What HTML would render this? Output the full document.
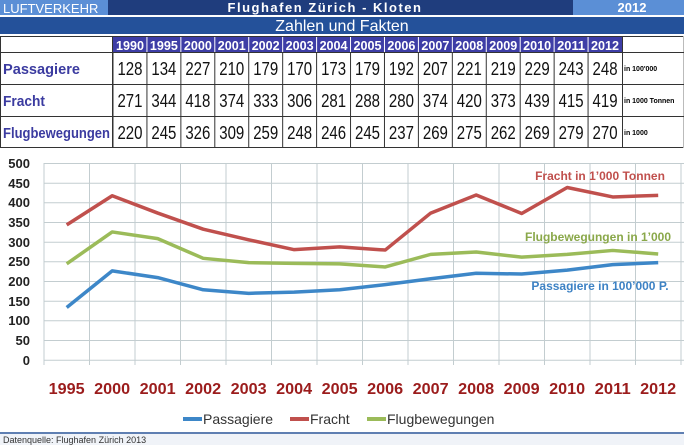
<!DOCTYPE html>
<html><head><meta charset="utf-8"><style>
body{margin:0;background:#fff;}
svg{display:block;font-family:"Liberation Sans",sans-serif;}
</style></head><body>
<svg width="684" height="445" viewBox="0 0 684 445" xmlns="http://www.w3.org/2000/svg">
<rect x="0" y="0" width="684" height="15" fill="#1f3d7d"/>
<rect x="0" y="0" width="108" height="15" fill="#5b8fd6"/>
<rect x="573" y="0" width="111" height="15" fill="#5b8fd6"/>
<text x="3" y="13" font-size="13" fill="#fff">LUFTVERKEHR</text>
<text x="325" y="12" font-size="13" font-weight="bold" fill="#fff" text-anchor="middle" letter-spacing="1.5">Flughafen Zürich - Kloten</text>
<text x="632" y="12" font-size="13" font-weight="bold" fill="#fff" text-anchor="middle">2012</text>
<rect x="0" y="17" width="684" height="17" fill="#24519a"/>
<text x="342" y="31" font-size="16" fill="#fff" text-anchor="middle">Zahlen und Fakten</text>
<g id="tbl" font-size="15" stroke-width="1">
<line x1="0.5" y1="36" x2="0.5" y2="148" stroke="#333"/>
<line x1="0" y1="36.5" x2="684" y2="36.5" stroke="#333"/>
<line x1="0" y1="147.5" x2="684" y2="147.5" stroke="#333"/>
<line x1="683.5" y1="36" x2="683.5" y2="148" stroke="#bbb"/>
<rect x="113" y="37" width="509" height="15" fill="#3d3da6"/>
<line x1="0" y1="52.5" x2="684" y2="52.5" stroke="#333"/>
<line x1="0" y1="84.5" x2="684" y2="84.5" stroke="#333"/>
<line x1="0" y1="116.5" x2="684" y2="116.5" stroke="#333"/>
<line x1="112.5" y1="36" x2="112.5" y2="148" stroke="#333"/>
<line x1="622.5" y1="36" x2="622.5" y2="148" stroke="#333"/>
</g>
<text x="3" y="74" font-size="15" font-weight="bold" fill="#3b3ba0" textLength="77" lengthAdjust="spacingAndGlyphs">Passagiere</text>
<text x="3" y="106" font-size="15" font-weight="bold" fill="#3b3ba0" textLength="42" lengthAdjust="spacingAndGlyphs">Fracht</text>
<text x="3" y="138" font-size="15" font-weight="bold" fill="#3b3ba0" textLength="107" lengthAdjust="spacingAndGlyphs">Flugbewegungen</text>
<text x="624" y="71" font-size="7" font-weight="bold">in 100'000</text>
<text x="624" y="103" font-size="7" font-weight="bold">in 1000 Tonnen</text>
<text x="624" y="135" font-size="7" font-weight="bold">in 1000</text>
<g id="cols"></g>
<line x1="44" y1="163" x2="44" y2="365" stroke="#b8c4c8"/>
<g stroke="#c3cdd0" stroke-width="1">
<line x1="44" y1="163.5" x2="684" y2="163.5"/><line x1="44" y1="183.2" x2="684" y2="183.2"/><line x1="44" y1="202.8" x2="684" y2="202.8"/><line x1="44" y1="222.5" x2="684" y2="222.5"/><line x1="44" y1="242.2" x2="684" y2="242.2"/><line x1="44" y1="261.8" x2="684" y2="261.8"/><line x1="44" y1="281.5" x2="684" y2="281.5"/><line x1="44" y1="301.2" x2="684" y2="301.2"/><line x1="44" y1="320.8" x2="684" y2="320.8"/><line x1="44" y1="340.5" x2="684" y2="340.5"/><line x1="44" y1="360.2" x2="684" y2="360.2"/>
</g>
<g id="vg" stroke="#c3cdd0"></g>
<g font-size="13" font-weight="bold" fill="#222" text-anchor="end">
<text x="30" y="168">500</text><text x="30" y="188">450</text><text x="30" y="207">400</text><text x="30" y="227">350</text><text x="30" y="247">300</text><text x="30" y="266">250</text><text x="30" y="286">200</text><text x="30" y="306">150</text><text x="30" y="325">100</text><text x="30" y="345">50</text><text x="30" y="365">0</text>
</g>
<g id="series" fill="none" stroke-width="3.5" stroke-linejoin="round"></g>
<text x="600" y="180" font-size="12" font-weight="bold" fill="#c0504d" text-anchor="middle">Fracht in 1’000 Tonnen</text>
<text x="598" y="241" font-size="12" font-weight="bold" fill="#8aa84a" text-anchor="middle">Flugbewegungen in 1’000</text>
<text x="600" y="290" font-size="12" font-weight="bold" fill="#3d82c4" text-anchor="middle">Passagiere in 100’000 P.</text>
<g id="yl" font-size="16" font-weight="bold" fill="#9b1c1c" text-anchor="middle"></g>
<line x1="183" y1="419" x2="202" y2="419" stroke="#3d87c8" stroke-width="4"/>
<text x="203" y="424" font-size="14" fill="#333">Passagiere</text>
<line x1="290" y1="419" x2="309" y2="419" stroke="#c0504d" stroke-width="4"/>
<text x="310" y="424" font-size="14" fill="#333">Fracht</text>
<line x1="367" y1="419" x2="386" y2="419" stroke="#9bbb59" stroke-width="4"/>
<text x="387" y="424" font-size="14" fill="#333">Flugbewegungen</text>
<line x1="0" y1="433" x2="684" y2="433" stroke="#2a5599" stroke-width="1.5"/>
<rect x="0" y="434" width="684" height="11" fill="#f0f3f8"/>
<text x="3" y="443" font-size="9" fill="#333">Datenquelle:  Flughafen Zürich  2013</text>
</svg>
<script>
var ns="http://www.w3.org/2000/svg";
function el(p,t,a,txt){var e=document.createElementNS(ns,t);for(var k in a)e.setAttribute(k,a[k]);if(txt!=null)e.textContent=txt;document.getElementById(p).appendChild(e);return e;}
var yrs=[1990,1995,2000,2001,2002,2003,2004,2005,2006,2007,2008,2009,2010,2011,2012];
var P=[128,134,227,210,179,170,173,179,192,207,221,219,229,243,248];
var F=[271,344,418,374,333,306,281,288,280,374,420,373,439,415,419];
var B=[220,245,326,309,259,248,246,245,237,269,275,262,269,279,270];
var w=509/15;
for(var i=0;i<15;i++){var x=113+i*w;
 if(i>0)el("cols","line",{x1:x,y1:37,x2:x,y2:52,stroke:"#fff"});
 el("cols","line",{x1:x,y1:52,x2:x,y2:148,stroke:"#333"});
 el("cols","text",{x:x+w/2,y:50,"font-size":13,"font-weight":"bold",fill:"#fff","text-anchor":"middle",textLength:28,lengthAdjust:"spacingAndGlyphs"},yrs[i]);
 [[P,75],[F,107],[B,139]].forEach(function(r){el("cols","text",{x:x+w/2,y:r[1],"font-size":18,fill:"#111","text-anchor":"middle",textLength:25,lengthAdjust:"spacingAndGlyphs"},r[0][i]);});
}
for(var k=0;k<=14;k++){var x=44+k*45.5;el("vg","line",{x1:x,y1:163,x2:x,y2:365});}
function pts(a){var s=[];for(var i=1;i<15;i++){s.push((66.7+(i-1)*45.5)+","+(360.2-a[i]*0.3934));}return s.join(" ");}
el("series","polyline",{points:pts(F),stroke:"#c0504d"});
el("series","polyline",{points:pts(B),stroke:"#9bbb59"});
el("series","polyline",{points:pts(P),stroke:"#3d87c8"});
for(var i=1;i<15;i++)el("yl","text",{x:66.7+(i-1)*45.5,y:394,textLength:36,lengthAdjust:"spacingAndGlyphs"},yrs[i]);
</script>
</body></html>
